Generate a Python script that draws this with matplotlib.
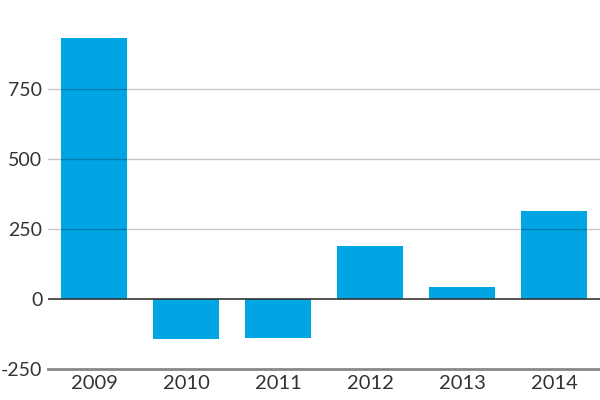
import matplotlib
matplotlib.use("Agg")
import matplotlib.pyplot as plt

years = ["2009", "2010", "2011", "2012", "2013", "2014"]
values = [932, -143, -140, 189, 43, 314]
yticks = [-250, 0, 250, 500, 750]

plt.rcParams["font.family"] = ["Lato", "DejaVu Sans"]

fig = plt.figure(figsize=(6, 4), dpi=100)
ax = fig.add_axes([0.08, 0.0775, 0.92, 0.9225])

x = range(len(years))
ax.bar(x, values, width=0.72, color="#00a5e3", zorder=1)

ax.set_xlim(-0.5, len(years) - 0.5)
ax.set_ylim(-250, 1068)
ax.set_yticks(yticks)
ax.set_yticklabels([str(v) for v in yticks])
ax.set_xticks(list(x))
ax.set_xticklabels(years)

for v in yticks[2:]:
    ax.axhline(v, color="black", alpha=0.22, linewidth=1, zorder=2)
ax.axhline(0, color="#333333", linewidth=1.2, zorder=3)

for side in ["top", "right", "left"]:
    ax.spines[side].set_visible(False)
ax.spines["bottom"].set_color("#888888")
ax.spines["bottom"].set_linewidth(2)

ax.tick_params(axis="both", length=0, colors="#333333")
ax.tick_params(axis="y", pad=4, labelsize=14)
ax.tick_params(axis="x", pad=4, labelsize=14.5)

fig.savefig("out.png", dpi=100)
